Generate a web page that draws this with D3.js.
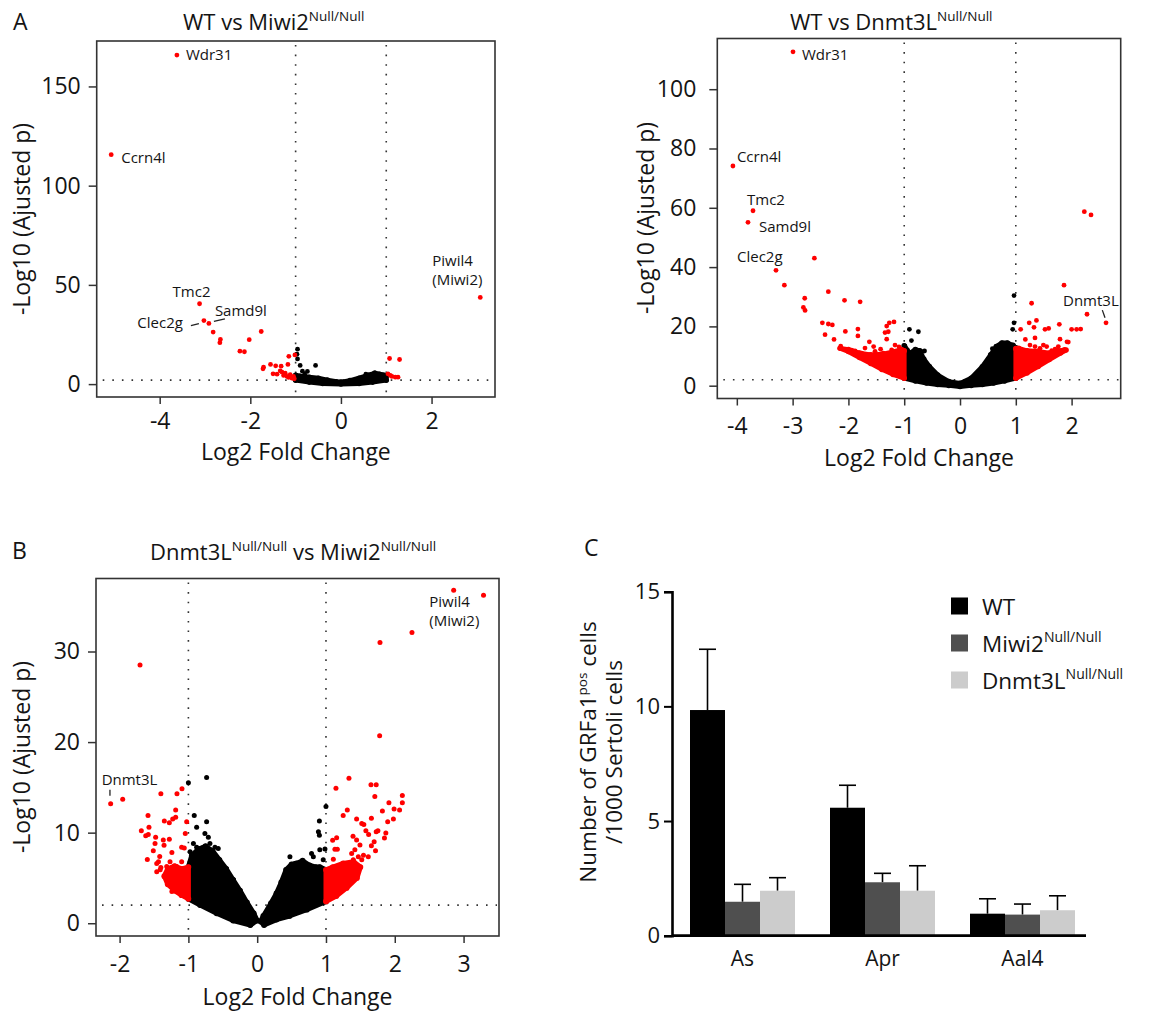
<!DOCTYPE html>
<html><head><meta charset="utf-8">
<script src="https://cdn.jsdelivr.net/npm/d3@7"></script>
<style>
body{margin:0;background:#fff}
text{font-family:"Open Sans",sans-serif;fill:#141414}
</style>
</head><body>
<svg id="c" width="1150" height="1012"></svg>
<script>
// ---------------- DATA ----------------
// Panel A (left): WT vs Miwi2  [log2FC, -log10 padj]
const a1Red = [[-3.62,165.8],[-5.07,115.6],[3.075,43.7],[-3.12,40.5],[-3.024,32.0],[-2.914,30.6],[-2.82,26.2],[-2.66,22.5],[-2.672,20.9],[-1.759,26.5],[-2.024,22.4],[-2.23,16.6],[-2.13,16.3],[-1.708,8.5],[-1.72,7.7],[-1.554,9.9],[-1.44,9.2],[-1.32,9.05],[-1.17,9.9],[-1.15,14.0],[-1.016,14.7],[-1.498,5.2],[-1.41,5.0],[-1.30,6.0],[-1.265,4.35],[-1.19,3.85],[-1.12,4.7],[-1.047,3.85],[-1.08,3.0],[-1.34,6.7],[-1.23,5.5],[-1.154,3.35],[-1.03,2.7],[1.073,12.9],[1.294,12.4],[1.037,5.2],[1.125,3.85],[1.2,3.5],[1.26,3.5],[1.09,4.35]];
const a1Black = [[-0.958,17.6],[-0.958,12.7],[-0.9,9.4],[-0.56,9.4],[-0.74,6.4],[-0.97,15.1],[0.74,5.6],[0.65,4.3],[-0.85,6.5],[-0.8,5],[0.9,4.8],[0.55,5]];
const a1CloudBlack = [[[-1,4.5],[-0.9,4],[-0.7,3.5],[-0.5,3],[-0.3,2],[-0.1,1.2],[0,1],[0.2,1.8],[0.4,3],[0.6,4.5],[0.75,5.5],[0.85,5],[0.95,4.5],[1,4],[1,2],[0.7,1],[0.4,0.3],[0,0],[-0.4,0.3],[-0.7,1],[-1,2]]];
const a1CloudRed = [];
const a1Genes = [{g:"Wdr31",p:[-3.62,165.8]},{g:"Ccrn4l",p:[-5.07,115.6]},{g:"Piwil4|(Miwi2)",p:[3.075,43.7]},{g:"Tmc2",p:[-3.12,40.5]},{g:"Samd9l",p:[-2.914,30.6]},{g:"Clec2g",p:[-3.024,32.0]}];

// Panel A (right): WT vs Dnmt3L
const a2Red = [[-2.993,112.6],[-4.07,74.1],[-3.71,59.0],[-3.80,55.1],[-3.298,38.9],[-2.61,43.0],[-3.148,33.9],[-2.783,29.5],[-2.807,26.4],[-2.777,25.4],[-2.36,31.7],[-2.07,28.8],[-1.79,28.3],[-2.467,21.2],[-2.36,20.8],[-2.288,20.5],[-2.419,17.2],[-2.258,15.6],[-2.138,13.3],[-2.055,18.3],[-1.83,19.1],[-1.83,16.8],[-1.314,20.1],[-1.267,21.2],[-1.183,21.5],[-1.344,17.9],[-1.285,18.2],[-1.625,14.8],[-1.548,13.2],[-1.423,12.3],[-1.314,15.7],[-1.165,13.7],[-1.094,13.1],[-1.703,12.7],[-1.523,11.6],[-1.374,11.0],[-1.225,12.1],[-1.135,11.6],[-1.075,11.8],[-1.882,11.7],[-1.942,12.0],[-1.763,11.0],[-1.643,10.4],[-1.464,9.8],[-1.285,10.1],[-1.165,9.8],[-1.045,10.4],
 [2.228,58.7],[2.348,57.6],[1.864,33.9],[2.276,24.1],[2.617,21.2],[1.283,27.8],[1.24,21.2],[1.37,22.0],[1.087,19.0],[1.326,19.7],[1.523,19.0],[1.589,19.3],[1.78,20.7],[2.0,19.0],[2.09,19.0],[2.163,19.1],[1.171,15.6],[1.344,16.1],[1.792,15.7],[1.941,14.7],[1.917,14.8],[1.762,13.2],[1.87,12.2],[1.643,11.8],[1.553,13.2],[1.494,13.7],[1.434,12.6],[1.254,13.7],[1.344,13.2],[1.703,12.3]];
const a2Black = [[0.968,30.4],[0.968,21.2],[0.944,19.0],[-0.907,19.0],[-0.746,18.2],[-0.871,15.2],[0.58,12.5],[0.735,12.5],[0.824,14.1],[0.705,13.8],[0.867,13.6],[-0.683,11.5],[-0.636,11.7],[-0.985,13.3]];
const a2CloudBlack = [[[-1,13.5],[-0.95,12],[-0.9,10.9],[-0.8,12.2],[-0.72,11.8],[-0.65,9],[-0.55,6.5],[-0.4,3.6],[-0.2,1.4],[0,0.8],[0.2,2.5],[0.4,6.4],[0.55,10.4],[0.65,13.2],[0.75,14.4],[0.85,14.4],[0.95,13.6],[1,12.8],[1,2.5],[0.8,1.6],[0.6,0.9],[0.4,0.4],[0.2,0.1],[0,-0.3],[-0.2,0.1],[-0.4,0.4],[-0.6,0.9],[-0.8,1.6],[-1,2.5]]];
const a2CloudRed = [
 [[-1.0,2.5],[-1.2,3.8],[-1.4,5.5],[-1.6,7.5],[-1.8,9.5],[-2.0,11.5],[-2.15,12.6],[-2.0,12.2],[-1.8,11.0],[-1.6,10.4],[-1.4,10.6],[-1.2,11.4],[-1.05,12.2],[-1.0,11.8]],
 [[1.0,2.5],[1.2,4.3],[1.4,6.5],[1.6,8.8],[1.8,11.0],[1.9,12],[1.75,11.8],[1.6,11.0],[1.4,11.6],[1.2,11.8],[1.05,12.6],[1.0,12.5]]];
const a2Genes = [{g:"Wdr31",p:[-2.993,112.6]},{g:"Ccrn4l",p:[-4.07,74.1]},{g:"Tmc2",p:[-3.71,59.0]},{g:"Samd9l",p:[-3.80,55.1]},{g:"Clec2g",p:[-3.298,38.9]},{g:"Dnmt3L",p:[2.617,21.2]}];

// Panel B: Dnmt3L vs Miwi2
const bRed = [[2.856,36.75],[3.29,36.2],[2.25,32.1],[1.785,31.0],[1.78,20.7],[1.334,16.0],[1.145,14.9],[1.654,15.3],[1.73,15.3],[1.71,14.0],[2.11,14.1],[2.11,13.3],[1.915,13.3],[1.99,12.6],[2.07,12.5],[1.82,12.4],[1.31,12.5],[1.25,11.9],[1.445,11.5],[1.66,11.6],[1.897,11.2],[1.98,11.5],[1.52,11.0],[1.55,10.9],[1.393,9.6],[1.755,10.2],[1.73,10.1],[1.87,9.95],[1.85,9.4],[1.70,9.0],[1.66,8.56],[1.72,8.0],[1.62,9.8],[1.58,10.2],[1.097,9.16],[1.155,9.45],[1.165,8.17],[1.13,8.17],[1.107,7.07],[1.445,9.2],[1.494,8.65],[1.42,8.1],[1.373,7.7],[1.47,7.35],[1.545,7.5],[1.397,7.0],[1.35,6.4],[1.30,6.25],[1.25,5.9],[1.20,5.5],[1.18,5.2],[1.30,5.5],[1.42,6.25],[1.52,7.0],[1.615,7.35],
 [-1.703,28.5],[-2.13,13.2],[-1.955,13.7],[-1.40,14.3],[-1.166,14.3],[-1.093,14.85],[-1.587,11.9],[-1.573,10.6],[-1.684,10.2],[-1.62,9.66],[-1.583,9.8],[-1.597,7.04],[-1.476,9.5],[-1.35,11.3],[-1.277,11.1],[-1.228,11.5],[-1.185,11.7],[-1.185,12.5],[-1.025,11.2],[-1.045,9.9],[-1.277,9.27],[-1.354,8.61],[-1.417,7.36],[-1.40,6.15],[-1.46,5.68],[-1.51,8.0],[-1.24,7.8],[-1.267,6.8],[-1.098,8.4],[-1.06,8.3],[-1.315,6.25],[-1.195,5.9],[-1.16,5.5],[-1.122,5.15],[-1.34,5.15],[-1.218,4.8],[-1.145,4.4],[-1.072,4.05],[-1.025,3.7],[-1.122,3.7],[-1.18,4.25],[-1.267,4.6],[-1.025,4.8],[-1.05,5.5],[-1.17,6.25],[-1.098,6.8],[-1.46,6.6],[-1.41,5.9],[-1.485,8.8],[-1.365,9.2],[-1.435,6.8],[-1.24,3.5],[-1.098,3.15],[-1.05,3.0]];
const bBlack = [[-1.0,15.5],[-0.735,16.1],[-0.915,11.9],[-0.88,10.6],[-0.735,11.2],[-0.76,9.9],[-0.71,9.5],[-0.687,8.8],[-0.566,8.25],[-0.614,8.4],[-0.78,8.4],[-0.83,7.7],[-0.927,8.8],[-0.975,7.9],[-0.927,7.35],[-0.88,8.4],[-0.347,4.8],[1.0,12.9],[0.904,11.3],[0.89,10.1],[0.904,9.7],[0.985,8.2],[0.476,7.35],[0.549,6.6],[0.79,7.7],[0.816,7.35],[0.91,8.1],[0.96,7.0],[0.67,6.8],[0.6,6.4]];
const bCloudBlack = [
 [[0,0.3],[-0.05,1.1],[-0.15,2.3],[-0.25,3.6],[-0.35,4.8],[-0.45,6],[-0.55,7],[-0.65,8],[-0.75,8.5],[-0.85,8.2],[-0.95,7.5],[-1,6.2],[-1,2.7],[-0.83,2.0],[-0.59,1.1],[-0.35,0.3],[-0.1,-0.2]],
 [[0.05,0.2],[0.09,0.8],[0.2,2.2],[0.28,3.3],[0.35,4.5],[0.42,5.9],[0.5,6.5],[0.57,6.6],[0.66,6.9],[0.76,6.4],[0.85,6.2],[0.91,6.2],[1.0,5.9],[1.0,2.4],[0.72,1.5],[0.47,0.8],[0.28,0.4],[0.1,-0.2]]];
const bCloudRed = [
 [[-1.0,2.7],[-1.1,3.1],[-1.2,3.6],[-1.3,4.3],[-1.35,5.2],[-1.3,6.0],[-1.2,6.3],[-1.1,6.0],[-1.0,6.2]],
 [[1.0,2.4],[1.15,3.0],[1.3,3.9],[1.45,5.0],[1.5,6.2],[1.4,6.8],[1.25,6.6],[1.1,6.2],[1.0,5.9]]];
const bGenes = [{g:"Piwil4|(Miwi2)",p:[2.856,36.75]},{g:"Dnmt3L",p:[-2.13,13.2]}];

// thresholds
const fcCut = [-1, 1];
const padjCut = 2;

// Panel C: bar chart
const cCategories = ["As","Apr","Aal4"];
const cGroups = ["WT","Miwi2","Dnmt3L"];
const cMean = {WT:[9.84,5.58,0.96], Miwi2:[1.48,2.33,0.92], Dnmt3L:[1.96,1.96,1.11]};
const cErr  = {WT:[2.65,0.98,0.65], Miwi2:[0.76,0.39,0.46], Dnmt3L:[0.57,1.09,0.63]};
const cYTicks = [0,5,10,15];

// ---------------- DRAWING ----------------
const svg = d3.select("#c");
const RED = "#ff0000";
const GRID = "#333";

function richText(sel, parts, baseSize, supSize) {
  parts.forEach(([t, sup], i) => {
    const ts = sel.append("tspan").text(t);
    if (sup) { ts.attr("font-size", supSize).attr("dy", -baseSize*0.42); }
    else { ts.attr("font-size", baseSize); if (i>0 && parts[i-1][1]) ts.attr("dy", baseSize*0.42); }
  });
}

function volcano(cfg) {
  const b = cfg.box;
  const x = d3.scaleLinear().domain(cfg.xDomain).range([b.x0, b.x1]);
  const y = d3.scaleLinear().domain(cfg.yDomain).range([b.y1, b.y0]);
  const g = svg.append("g");
  fcCut.forEach(v => g.append("line").attr("x1", x(v)).attr("x2", x(v))
     .attr("y1", b.y0 + 4).attr("y2", b.y1 - 2)
     .attr("stroke", GRID).attr("stroke-width", 1.6).attr("stroke-dasharray", "1.6 8"));
  g.append("line").attr("x1", b.x0 + 6).attr("x2", b.x1 - 2)
     .attr("y1", y(padjCut)).attr("y2", y(padjCut))
     .attr("stroke", GRID).attr("stroke-width", 1.6).attr("stroke-dasharray", "1.6 8");
  const line = d3.line().x(d => x(d[0])).y(d => y(d[1])).curve(d3.curveLinearClosed);
  const r = cfg.r;
  cfg.cloudBlack.forEach(poly => {
    g.append("path").attr("d", line(poly))
     .attr("fill", "#000").attr("stroke", "#000").attr("stroke-width", 2*r).attr("stroke-linejoin", "round");
    g.selectAll(null).data(poly).join("circle").attr("cx", d => x(d[0])).attr("cy", d => y(d[1])).attr("r", r*1.15).attr("fill", "#000");
  });
  g.selectAll(null).data(cfg.black).join("circle")
     .attr("cx", d => x(d[0])).attr("cy", d => y(d[1])).attr("r", r).attr("fill", "#000");
  cfg.cloudRed.forEach(poly => {
    g.append("path").attr("d", line(poly))
     .attr("fill", RED).attr("stroke", RED).attr("stroke-width", 2*r).attr("stroke-linejoin", "round");
    g.selectAll(null).data(poly).join("circle").attr("cx", d => x(d[0])).attr("cy", d => y(d[1])).attr("r", r*1.15).attr("fill", RED);
  });
  g.selectAll(null).data(cfg.red).join("circle")
     .attr("cx", d => x(d[0])).attr("cy", d => y(d[1])).attr("r", r).attr("fill", RED);
  g.append("rect").attr("x", b.x0).attr("y", b.y0).attr("width", b.x1 - b.x0).attr("height", b.y1 - b.y0)
     .attr("fill", "none").attr("stroke", GRID).attr("stroke-width", 1.6);
  const ax = g.append("g").attr("transform", `translate(0,${b.y1})`)
     .call(d3.axisBottom(x).tickValues(cfg.xTicks).tickSize(7).tickPadding(cfg.xPad).tickFormat(d => String(d)));
  const ay = g.append("g").attr("transform", `translate(${b.x0},0)`)
     .call(d3.axisLeft(y).tickValues(cfg.yTicks).tickSize(8).tickPadding(cfg.yPad).tickFormat(d => String(d)));
  [ax, ay].forEach(a => {
    a.select(".domain").remove();
    a.selectAll(".tick line").attr("stroke", GRID).attr("stroke-width", 1.5);
    a.selectAll(".tick text").attr("font-size", 23).attr("font-family", '"Open Sans",sans-serif').attr("fill", "#141414");
  });
  g.append("text").attr("x", (b.x0 + b.x1)/2).attr("y", cfg.xTitleY).attr("text-anchor", "middle")
     .attr("font-size", 23).text("Log2 Fold Change");
  g.append("text").attr("transform", `translate(${cfg.yTitleX},${cfg.yTitleY}) rotate(-90)`)
     .attr("text-anchor", "middle").attr("font-size", 23).text("-Log10 (Ajusted p)");
  cfg.genes.forEach(gn => {
    const lay = cfg.labelLayout[gn.g];
    const px = x(gn.p[0]), py = y(gn.p[1]);
    const lines = gn.g.split("|");
    const t = g.append("text").attr("font-size", 15).attr("text-anchor", lay.anchor || "start");
    lines.forEach((ln, i) => t.append("tspan").attr("x", px + lay.dx).attr("y", py + lay.dy + i*19).text(ln));
    if (lay.lead) g.append("line").attr("x1", px + lay.lead[0]).attr("y1", py + lay.lead[1])
       .attr("x2", px + lay.lead[2]).attr("y2", py + lay.lead[3]).attr("stroke", "#222").attr("stroke-width", 1.3);
  });
  const tt = svg.append("text").attr("x", cfg.titleX).attr("y", cfg.titleY);
  richText(tt, cfg.title, 22, 13.5);
}

volcano({
  box:{x0:96.7, x1:495, y0:41, y1:397}, xDomain:[-5.39, 3.40], yDomain:[-6.5, 172.9],
  xTicks:[-4,-2,0,2], yTicks:[0,50,100,150], xPad:9, yPad:8, xTitleY:460, yTitleX:30, yTitleY:219, r:2.4,
  red:a1Red, black:a1Black, cloudBlack:a1CloudBlack, cloudRed:a1CloudRed, genes:a1Genes,
  labelLayout:{
    "Wdr31":{dx:9, dy:5}, "Ccrn4l":{dx:10, dy:8},
    "Piwil4|(Miwi2)":{dx:-48, dy:-31}, "Tmc2":{dx:-27, dy:-7},
    "Samd9l":{dx:6, dy:-7, lead:[5,-2,16,-4.6]}, "Clec2g":{dx:-21, dy:7, anchor:"end", lead:[-13,5,-5,3]}
  },
  title:[["WT vs Miwi2",false],["Null/Null",true]], titleX:183, titleY:30
});

volcano({
  box:{x0:717.3, x1:1120.7, y0:38.5, y1:398.5}, xDomain:[-4.35, 2.88], yDomain:[-4.32, 117.1],
  xTicks:[-4,-3,-2,-1,0,1,2], yTicks:[0,20,40,60,80,100], xPad:12, yPad:13, xTitleY:466, yTitleX:654, yTitleY:218, r:2.4,
  red:a2Red, black:a2Black, cloudBlack:a2CloudBlack, cloudRed:a2CloudRed, genes:a2Genes,
  labelLayout:{
    "Wdr31":{dx:9, dy:8}, "Ccrn4l":{dx:4, dy:-4}, "Tmc2":{dx:-6, dy:-6},
    "Samd9l":{dx:11, dy:10}, "Clec2g":{dx:-39, dy:-8},
    "Dnmt3L":{dx:-43, dy:-17, lead:[-3.7,-12.7,-1,-5]}
  },
  title:[["WT vs Dnmt3L",false],["Null/Null",true]], titleX:790, titleY:30
});

volcano({
  box:{x0:96, x1:499, y0:578.5, y1:936}, xDomain:[-2.343, 3.515], yDomain:[-1.41, 38.06],
  xTicks:[-2,-1,0,1,2,3], yTicks:[0,10,20,30], xPad:13, yPad:8, xTitleY:1005, yTitleX:30, yTitleY:757, r:2.5,
  red:bRed, black:bBlack, cloudBlack:bCloudBlack, cloudRed:bCloudRed, genes:bGenes,
  labelLayout:{
    "Piwil4|(Miwi2)":{dx:-24.4, dy:16.4},
    "Dnmt3L":{dx:-9, dy:-19, lead:[-0.7,-14,-0.7,-8]}
  },
  title:[["Dnmt3L",false],["Null/Null",true],[" vs Miwi2",false],["Null/Null",true]], titleX:150, titleY:560
});

[["A",13,30],["B",12,559],["C",584,556]].forEach(([t,x,y]) =>
  svg.append("text").attr("x", x).attr("y", y).attr("font-size", 23).text(t));

// ---------------- Panel C ----------------
(function(){
  const y0 = 935.7, y15 = 591.7, axX = 672;
  const y = d3.scaleLinear().domain([0,15]).range([y0, y15]);
  const x0 = d3.scaleBand().domain(cCategories).range([axX, 1093]).paddingInner(0.25).paddingOuter(0.1286);
  const x1 = d3.scaleBand().domain(cGroups).range([0, x0.bandwidth()]);
  const color = d3.scaleOrdinal().domain(cGroups).range(["#000000","#4f4f4f","#cccccc"]);
  const g = svg.append("g");
  const rows = [];
  cCategories.forEach((c, i) => cGroups.forEach(k => rows.push({c, k, m:cMean[k][i], e:cErr[k][i]})));
  const cx = d => x0(d.c) + x1(d.k) + x1.bandwidth()/2;
  const eb = g.selectAll(null).data(rows).join("g");
  eb.append("line").attr("x1", cx).attr("x2", cx)
    .attr("y1", d => y(d.m)).attr("y2", d => y(d.m + d.e)).attr("stroke", "#000").attr("stroke-width", 1.6);
  eb.append("line").attr("x1", d => cx(d) - 8.5).attr("x2", d => cx(d) + 8.5)
    .attr("y1", d => y(d.m + d.e)).attr("y2", d => y(d.m + d.e)).attr("stroke", "#000").attr("stroke-width", 1.6);
  g.selectAll(null).data(rows).join("rect")
    .attr("x", d => x0(d.c)+x1(d.k)).attr("width", x1.bandwidth())
    .attr("y", d => y(d.m)).attr("height", d => y(0) - y(d.m)).attr("fill", d => color(d.k));
  const ay = g.append("g").attr("transform", `translate(${axX},0)`)
    .call(d3.axisLeft(y).tickValues(cYTicks).tickSize(8).tickPadding(4).tickFormat(d => String(d)));
  ay.select(".domain").attr("stroke", "#000").attr("stroke-width", 2.6);
  ay.selectAll(".tick line").attr("stroke", "#000").attr("stroke-width", 2);
  ay.selectAll(".tick text").attr("font-size", 22).attr("font-family", '"Open Sans",sans-serif').attr("fill", "#141414");
  g.append("line").attr("x1", axX).attr("x2", 1086).attr("y1", y0).attr("y2", y0).attr("stroke", "#000").attr("stroke-width", 2.8);
  g.selectAll(null).data(cCategories).join("text")
    .attr("x", d => x0(d) + x0.bandwidth()/2).attr("y", 966).attr("text-anchor", "middle").attr("font-size", 21).text(d => d);
  const t1 = g.append("text").attr("transform", "translate(596,752) rotate(-90)").attr("text-anchor", "middle");
  richText(t1, [["Number of GRFa1",false],["pos",true],[" cells",false]], 22.5, 13.5);
  g.append("text").attr("transform", "translate(622,752) rotate(-90)").attr("text-anchor", "middle")
    .attr("font-size", 22.5).text("/1000 Sertoli cells");
  const legendLabels = {WT:[["WT",false]], Miwi2:[["Miwi2",false],["Null/Null",true]], Dnmt3L:[["Dnmt3L",false],["Null/Null",true]]};
  const ly = d3.scalePoint().domain(cGroups).range([606, 680]);
  cGroups.forEach(k => {
    g.append("rect").attr("x", 951).attr("y", ly(k) - 8.5).attr("width", 17).attr("height", 17).attr("fill", color(k));
    const t = g.append("text").attr("x", 982).attr("y", ly(k) + 8.5);
    richText(t, legendLabels[k], 22.5, 14);
  });
})();
</script>
</body></html>
